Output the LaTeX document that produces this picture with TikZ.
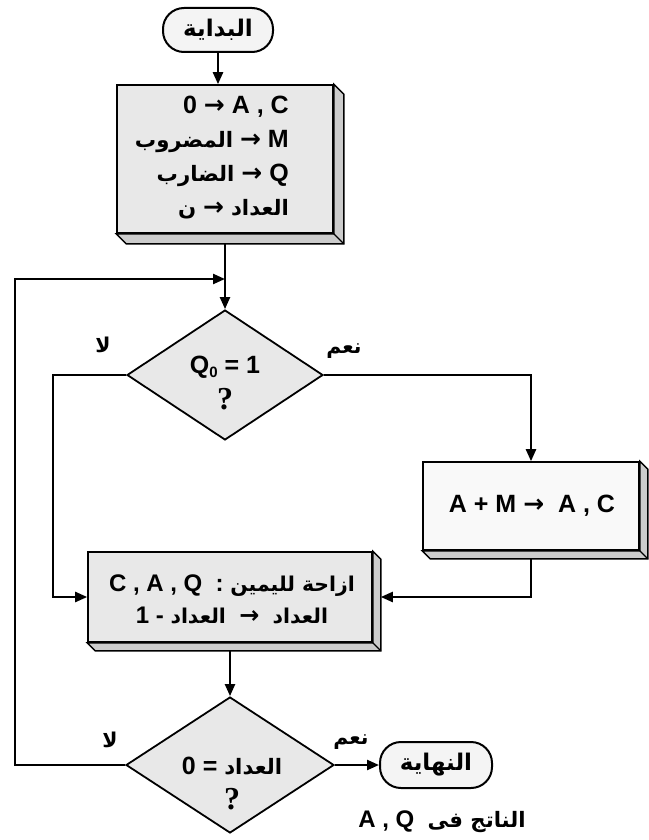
\documentclass[tikz,border=0pt]{standalone}
\usepackage{fontspec}
\setmainfont{Liberation Sans}
\newfontfamily\arfont[Script=Arabic,Scale=0.85]{DejaVu Sans}
\newfontfamily\symfont{DejaVu Sans}
\newfontfamily\qfont{Liberation Serif}
\TeXXeTstate=1
\usetikzlibrary{arrows.meta,shapes.geometric,calc}
% Arabic words set right to left in bold
\newcommand\AR[1]{{\arfont\bfseries\beginR #1\endR}}
% assignment arrow
\newcommand\goesto{{\symfont\bfseries →}}
% raised side and bottom faces of a process box
\newcommand\boxrelief[2]{%
  \filldraw[line width=1.4pt,fill=gray!40] (#1.north east) -- ++(#2,#2)
    -- ($(#1.south east)+(#2,#2)$) -- ($(#1.south west)+(#2,#2)$)
    -- (#1.south west) -- (#1.south east) -- cycle;
  \draw[line width=1.4pt] (#1.south east) -- ++(#2,#2);}
\begin{document}
\begin{tikzpicture}[x=1pt,y=-1pt,
  flow/.style={line width=2.3pt,-{Triangle[length=12pt,width=10pt]}},
  plain/.style={line width=2.3pt},
  procbox/.style={draw,line width=1.6pt,fill=gray!18,inner sep=0},
  lightbox/.style={procbox,fill=gray!5},
  term/.style={draw,line width=2pt,rounded corners=21pt,fill=gray!9,inner sep=0,
    minimum width=110pt,minimum height=44pt},
  decision/.style={diamond,draw,line width=1.8pt,fill=gray!18,inner sep=0},
  txt/.style={inner sep=0,font=\bfseries\fontsize{25}{34}\selectfont},
  small/.style={inner sep=0,font=\bfseries\fontsize{24}{26}\selectfont},
  termtxt/.style={inner sep=0,font=\bfseries\fontsize{27}{29}\selectfont},
  qmark/.style={inner sep=0,font=\qfont\bfseries\fontsize{32}{32}\selectfont}]
\useasboundingbox (0,0) rectangle (648,840);

% start
\node[term] (start) at (218,30) {};
\node[termtxt] (starttxt) at (218,30) {\AR{البداية}};

% initialisation box
\node[procbox,minimum width=216pt,minimum height=148pt] (b1) at (225,159) {};
\boxrelief{b1}{10}
\node[txt,align=right,anchor=east] (b1txt) at (289,158)
  {0 \goesto{} A , C\\ \AR{المضروب} \goesto{} M\\ \AR{الضارب} \goesto{} Q\\ \AR{ن} \goesto{} \AR{العداد}};

% first decision
\coordinate (jn) at (225,279);
\node[decision,minimum width=196pt,minimum height=130pt] (d1) at (225,375) {};
\node[txt] (d1txt) at (225,367) {Q{\fontsize{15}{15}\selectfont\raisebox{-4pt}{0}} = 1};
\node[qmark] (d1q) at (225,399) {?};
\node[small] (d1no) at (103,345) {\AR{لا}};
\node[small] (d1yes) at (344,351) {\AR{نعم}};

% addition box
\node[lightbox,minimum width=216pt,minimum height=88pt] (b3) at (531,506) {};
\boxrelief{b3}{8}
\node[txt] (b3txt) at (532,506) {A + M \goesto{} \ A , C};

% shift box
\node[procbox,minimum width=284pt,minimum height=90pt] (b2) at (230,597) {};
\boxrelief{b2}{8}
\node[txt,align=center,font=\bfseries\fontsize{24}{32}\selectfont] (b2txt) at (232,599)
  {C , A , Q \ : \AR{ازاحة لليمين}\\ 1 - \AR{العداد} \ \goesto{} \ \AR{العداد}};

% second decision
\node[decision,minimum width=208pt,minimum height=136pt] (d2) at (230,765) {};
\node[txt] (d2txt) at (232,766) {0 = \AR{العداد}};
\node[qmark] (d2q) at (232,799) {?};
\node[small] (d2no) at (110,740) {\AR{لا}};
\node[small] (d2yes) at (351,742) {\AR{نعم}};

% end
\node[term,minimum width=112pt,minimum height=46pt] (end) at (436,765) {};
\node[termtxt] (endtxt) at (436,765) {\AR{النهاية}};
\node[txt,font=\bfseries\fontsize{24}{26}\selectfont] (result) at (442,822) {A , Q \ {\fontsize{25}{25}\selectfont\AR{الناتج فى}}};

% connectors
\draw[flow] (start.south) -- (start.south |- b1.north);
\draw[plain] ($(b1.south)+(0,10)$) -- (jn);
\draw[flow] (jn) -- (d1.north);
\draw[flow] (d1.east) -| (b3.north);
\draw[flow] (d1.west) -- ++(-73,0) |- (b2.west);
\draw[flow] ($(b3.south)+(0,8)$) |- ($(b2.east)+(8,0)$);
\draw[flow] ($(b2.south)+(0,8)$) -- (d2.north);
\draw[flow] (d2.west) -- ++(-110,0) |- (jn);
\draw[flow] (d2.east) -- (end.west);
\end{tikzpicture}
\end{document}
